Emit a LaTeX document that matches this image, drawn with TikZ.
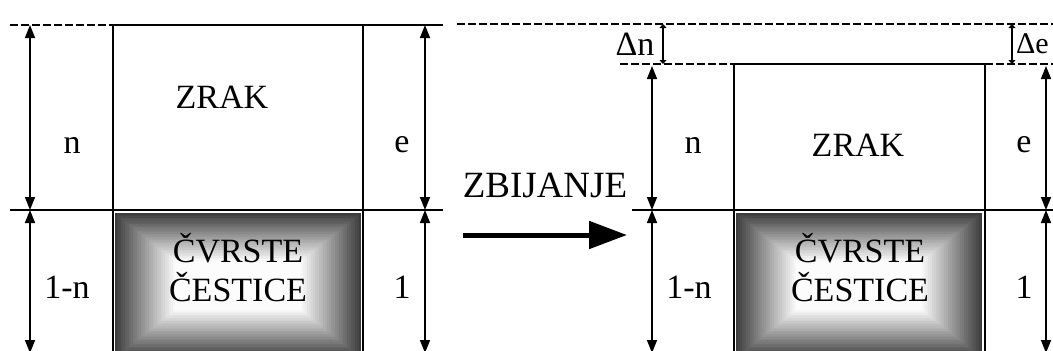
\documentclass[tikz,border=0pt]{standalone}
\usepackage{fontspec}
\setmainfont{Liberation Serif}
\usetikzlibrary{arrows.meta}

\begin{document}
\begin{tikzpicture}[x=1pt, y=-1pt,
    every node/.style={font=\fontsize{34}{39}\selectfont, inner sep=0pt},
    dimline/.style={line width=1.5pt, {Triangle[length=13pt,width=10pt]}-{Triangle[length=13pt,width=10pt]}},
    tinydim/.style={line width=1.6pt, {Triangle[length=4pt,width=7pt]}-{Triangle[length=4pt,width=7pt]}},
    level/.style={line width=1.6pt},
    guide/.style={line width=1.6pt, dash pattern=on 8pt off 3pt},
    wall/.style={line width=2pt},
    push/.style={line width=5pt, -{Triangle[length=38pt,width=27pt]}}]
    \useasboundingbox (0,0) rectangle (1053,351);

    % shaded solids
    \foreach \bx in {115,736}{
        \foreach \i in {0,...,30}{
            \pgfmathtruncatemacro{\c}{76-2.5*\i}
            \fill[black!\c] (\bx+2*\i,213+1.6*\i) rectangle (\bx+246-2*\i,358-1.6*\i);
        }
    }

    % left panel
    \coordinate (topA) at (10,25);   \coordinate (topB) at (113,25);
    \coordinate (topC) at (363,25);  \coordinate (topD) at (443,25);
    \coordinate (midA) at (10,210);  \coordinate (midB) at (443,210);
    \coordinate (botB) at (113,351); \coordinate (botC) at (363,351);
    \draw[guide] (topA) -- (topB);
    \draw[level] (topB) -- (topC) -- (topD);
    \draw[level] (midA) -- (midB);
    \draw[wall] (topB) -- (botB);
    \draw[wall] (topC) -- (botC);

    \coordinate (nTop) at (30,25);  \coordinate (nMid) at (30,210);  \coordinate (nBot) at (30,353);
    \coordinate (eTop) at (425,25); \coordinate (eMid) at (425,210); \coordinate (eBot) at (425,353);
    \draw[dimline] (nTop) -- (nMid);
    \draw[dimline] (nMid) -- (nBot);
    \draw[dimline] (eTop) -- (eMid);
    \draw[dimline] (eMid) -- (eBot);

    \node (nL) at (72,145) {n};
    \node (onenL) at (67,287) {1-n};
    \node (eL) at (402,145) {e};
    \node (oneL) at (402,287) {1};
    \node (zrakL) at (222,97) {ZRAK};
    \node[align=center] (solidL) at (238,268) {ČVRSTE\\ČESTICE};

    % compaction
    \node[font=\fontsize{37}{40}\selectfont] (zbij) at (545,185) {ZBIJANJE};
    \coordinate (pushA) at (463,235);
    \coordinate (pushB) at (627,235);
    \draw[push] (pushA) -- (pushB);

    % right panel
    \coordinate (hiA) at (457,24);   \coordinate (hiB) at (1060,24);
    \coordinate (lvA) at (620,64);   \coordinate (lvB) at (734,64);
    \coordinate (lvC) at (985,64);   \coordinate (lvD) at (1060,64);
    \coordinate (mdA) at (632,210);  \coordinate (mdB) at (1060,210);
    \coordinate (bwB) at (734,351);  \coordinate (bwC) at (985,351);
    \draw[guide] (hiA) -- (hiB);
    \draw[guide] (lvA) -- (lvB);
    \draw[level] (lvB) -- (lvC);
    \draw[guide] (lvC) -- (lvD);
    \draw[level] (mdA) -- (mdB);
    \draw[wall] (lvB) -- (bwB);
    \draw[wall] (lvC) -- (bwC);

    \coordinate (dnTop) at (663,24);  \coordinate (dnBot) at (663,64);
    \coordinate (deTop) at (1012,24); \coordinate (deBot) at (1012,64);
    \draw[tinydim] (dnTop) -- (dnBot);
    \draw[tinydim] (deTop) -- (deBot);

    \coordinate (rnTop) at (652,66);   \coordinate (rnMid) at (652,210);  \coordinate (rnBot) at (652,353);
    \coordinate (reTop) at (1046,66);  \coordinate (reMid) at (1046,210); \coordinate (reBot) at (1046,353);
    \draw[dimline] (rnTop) -- (rnMid);
    \draw[dimline] (rnMid) -- (rnBot);
    \draw[dimline] (reTop) -- (reMid);
    \draw[dimline] (reMid) -- (reBot);

    \node (dn) at (635,44) {Δn};
    \node[anchor=west, font=\fontsize{30}{34}\selectfont] (de) at (1016,44) {Δe};
    \node (nR) at (693,145) {n};
    \node (onenR) at (689,287) {1-n};
    \node (eR) at (1024,145) {e};
    \node (oneR) at (1024,287) {1};
    \node (zrakR) at (858,145) {ZRAK};
    \node[align=center] (solidR) at (860,268) {ČVRSTE\\ČESTICE};
\end{tikzpicture}
\end{document}
